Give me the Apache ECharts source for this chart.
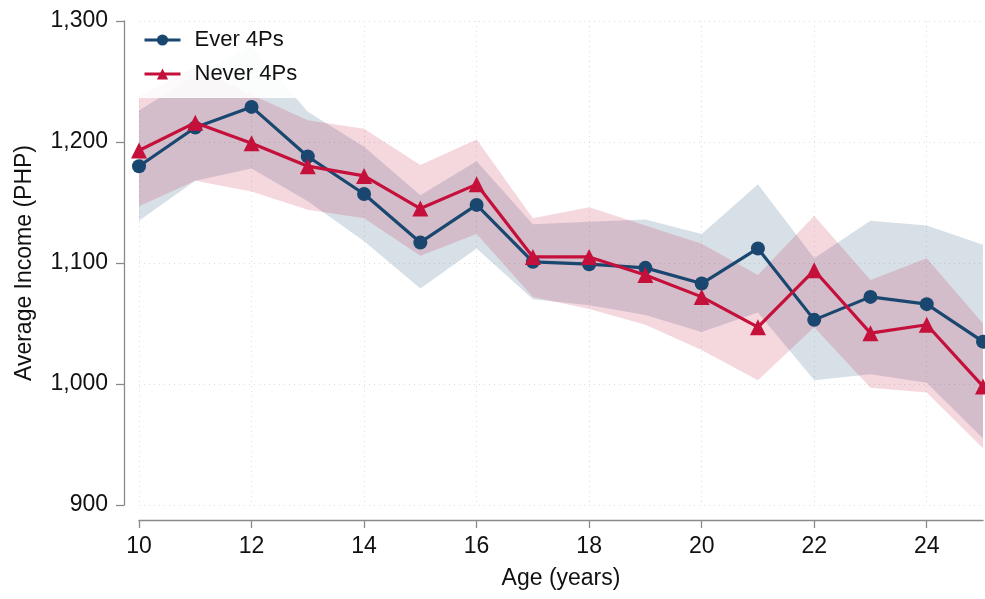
<!DOCTYPE html>
<html>
<head>
<meta charset="utf-8">
<script src="https://cdn.jsdelivr.net/npm/echarts@6/dist/echarts.min.js"></script>
<style>
html,body{margin:0;padding:0;background:#fff;}
#chart{width:985px;height:599px;}
</style>
</head>
<body>
<div id="chart"></div>
<script>
var ages = [10,11,12,13,14,15,16,17,18,19,20,21,22,23,24,25];
var xTicks = [10,12,14,16,18,20,22,24];
var yTicks = [900,1000,1100,1200,1300];

var everMean  = [1180,1212,1229,1188,1157,1117,1148,1101,1099,1096,1083,1112,1053,1072,1066,1035];
var everLow   = [1135,1168,1178,1151,1118,1079,1112,1070,1065,1057,1043,1059,1003,1008,1001,955];
var everHigh  = [1226,1255,1279,1225,1196,1156,1184,1132,1134,1136,1124,1165,1104,1135,1131,1115];

var neverMean = [1193,1216,1199,1180,1172,1145,1165,1105,1105,1090,1072,1047,1094,1042,1049,998];
var neverLow  = [1147,1168,1159,1144,1137,1106,1124,1072,1062,1049,1028,1003,1047,997,993,947];
var neverHigh = [1238,1262,1239,1218,1211,1181,1202,1137,1146,1131,1116,1090,1139,1086,1104,1050];

var FONT = "'Liberation Sans Narrow','Arial Narrow','Liberation Sans',Arial,sans-serif";
var BLUE = '#1a476f';
var RED = '#c4103a';
var AXIS = '#8a8a8a';

function pairs(arr){ return ages.map(function(a,i){ return [a, arr[i]]; }); }

function bandSeries(name, lo, hi, color){
  return {
    type:'custom', name:name, silent:true, z:1,
    data: ages.map(function(a,i){ return [a, lo[i], hi[i]]; }),
    encode:{x:0, y:[1,2]},
    clip:true,
    renderItem:function(params, api){
      if (params.dataIndex !== 0) return null;
      var pts = [];
      for (var i=0;i<ages.length;i++) pts.push(api.coord([ages[i], hi[i]]));
      for (var j=ages.length-1;j>=0;j--) pts.push(api.coord([ages[j], lo[j]]));
      return {type:'polygon', shape:{points:pts}, style:{fill:color, stroke:null}};
    }
  };
}

var chart = echarts.init(document.getElementById('chart'), null, {renderer:'canvas'});
var series = [
  bandSeries('everBand', everLow, everHigh, 'rgba(26,71,111,0.17)'),
  bandSeries('neverBand', neverLow, neverHigh, 'rgba(196,16,58,0.17)'),
  {type:'line', name:'Ever 4Ps', data:pairs(everMean), symbol:'circle', symbolSize:14,
   lineStyle:{color:BLUE, width:3.2}, itemStyle:{color:BLUE}, z:3},
  {type:'line', name:'Never 4Ps', data:pairs(neverMean), symbol:'triangle', symbolSize:16,
   lineStyle:{color:RED, width:3.2}, itemStyle:{color:RED}, z:4}
];

chart.setOption({
  animation:false,
  backgroundColor:'#ffffff',
  textStyle:{fontFamily:FONT},
  grid:{left:139, right:2, top:21, bottom:94, containLabel:false},
  legend:{
    data:['Ever 4Ps','Never 4Ps'],
    orient:'vertical', left:139, top:25,
    padding:[4,8,13,4],
    itemWidth:36, itemHeight:14, itemGap:12,
    lineStyle:{width:3},
    backgroundColor:'rgba(255,255,255,0.88)',
    textStyle:{fontFamily:FONT, fontSize:22, color:'#111', padding:[0,0,0,9]},
    z:10
  },
  xAxis:{
    type:'value', min:10, max:25, interval:2, offset:15,
    name:'Age (years)', nameLocation:'middle', nameGap:47,
    nameTextStyle:{fontFamily:FONT, fontSize:23, color:'#111'},
    axisLine:{show:true, lineStyle:{color:AXIS, width:1.3}},
    axisTick:{show:true, length:8, lineStyle:{color:AXIS, width:1.3}, customValues:xTicks},
    axisLabel:{fontFamily:FONT, fontSize:23, color:'#111', margin:15, customValues:xTicks},
    splitLine:{show:true, lineStyle:{color:'#dcdcdc', type:[1,4], width:1}}
  },
  yAxis:{
    type:'value', min:900, max:1300, interval:100, offset:15,
    name:'Average Income (PHP)', nameLocation:'middle', nameGap:88, nameRotate:90,
    nameTextStyle:{fontFamily:FONT, fontSize:23, color:'#111'},
    axisLine:{show:true, lineStyle:{color:AXIS, width:1.3}},
    axisTick:{show:true, length:8, lineStyle:{color:AXIS, width:1.3}},
    axisLabel:{fontFamily:FONT, fontSize:23, color:'#111', margin:16,
      formatter:function(v){ return v.toLocaleString('en-US'); }},
    splitLine:{show:true, lineStyle:{color:'#dcdcdc', type:[1,4], width:1}}
  },
  series:series
});
</script>
</body>
</html>
